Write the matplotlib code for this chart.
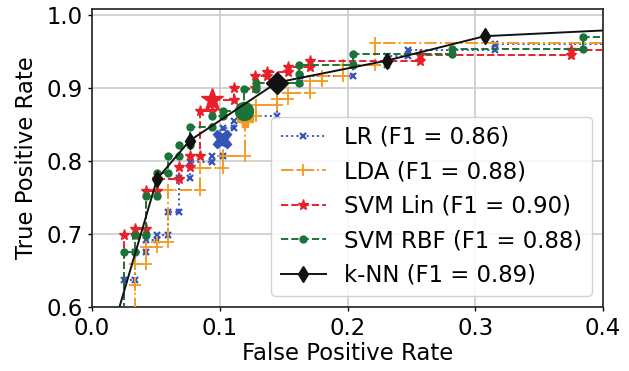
import matplotlib
matplotlib.use("Agg")
import matplotlib.pyplot as plt

# ---- data ----
lr_fpr = [0.0248, 0.0248, 0.0334, 0.0334, 0.0423, 0.0423, 0.0509, 0.0509, 0.0595, 0.0595,
          0.0684, 0.0684, 0.0764, 0.0764, 0.0939, 0.0939, 0.1025, 0.1025, 0.1108, 0.1108,
          0.1194, 0.1194, 0.1447, 0.1447, 0.1625, 0.1625, 0.2045, 0.2045, 0.2306, 0.2306,
          0.2475, 0.2475, 0.3152, 0.3152, 1.0, 1.0]
lr_tpr = [0.50, 0.637, 0.637, 0.675, 0.675, 0.692, 0.692, 0.699, 0.699, 0.730,
          0.730, 0.7765, 0.7765, 0.799, 0.799, 0.807, 0.807, 0.845, 0.845, 0.854,
          0.854, 0.861, 0.861, 0.907, 0.907, 0.916, 0.916, 0.932, 0.932, 0.9435,
          0.9435, 0.9525, 0.9525, 0.9607, 0.9607, 1.0]

lda_fpr = [0.0334, 0.0334, 0.0334, 0.0423, 0.0423, 0.0509, 0.0509, 0.0595, 0.0595, 0.0848,
           0.0848, 0.1025, 0.1025, 0.1194, 0.1194, 0.1281, 0.1281, 0.1447, 0.1447, 0.1538,
           0.1538, 0.1707, 0.1707, 0.1798, 0.1798, 0.1967, 0.1967, 0.2215, 0.2215, 1.0, 1.0]
lda_tpr = [0.50, 0.630, 0.659, 0.659, 0.6827, 0.6827, 0.6896, 0.6896, 0.7605, 0.7605,
           0.7907, 0.7907, 0.8071, 0.8071, 0.861, 0.861, 0.8771, 0.8771, 0.8849, 0.8849,
           0.8931, 0.8931, 0.9091, 0.9091, 0.916, 0.916, 0.932, 0.932, 0.9617, 0.9617, 1.0]

svml_fpr = [0.0248, 0.0248, 0.0334, 0.0334, 0.0423, 0.0423, 0.0509, 0.0509, 0.0678, 0.0678,
            0.0764, 0.0764, 0.0848, 0.0848, 0.0939, 0.0939, 0.1108, 0.1108, 0.1277, 0.1277,
            0.1369, 0.1369, 0.1538, 0.1538, 0.1707, 0.1707, 0.2566, 0.2566, 0.3752, 0.3752,
            1.0, 1.0]
svml_tpr = [0.50, 0.699, 0.699, 0.7066, 0.7066, 0.7595, 0.7595, 0.775, 0.775, 0.791,
            0.791, 0.807, 0.807, 0.869, 0.869, 0.884, 0.884, 0.900, 0.900, 0.916,
            0.916, 0.922, 0.922, 0.929, 0.929, 0.9365, 0.9365, 0.9457, 0.9457, 0.9525,
            0.9525, 1.0]

svmr_fpr = [0.0248, 0.0248, 0.0334, 0.0334, 0.0423, 0.0423, 0.0509, 0.0509, 0.0595, 0.0595,
            0.0684, 0.0684, 0.077, 0.077, 0.094, 0.094, 0.1025, 0.1025, 0.119, 0.119,
            0.128, 0.128, 0.162, 0.162, 0.162, 0.2045, 0.2045, 0.282, 0.282, 0.384,
            0.384, 1.0, 1.0]
svmr_tpr = [0.50, 0.675, 0.675, 0.699, 0.699, 0.752, 0.752, 0.783, 0.783, 0.807,
            0.807, 0.822, 0.822, 0.846, 0.846, 0.861, 0.861, 0.869, 0.869, 0.899,
            0.899, 0.907, 0.907, 0.919, 0.931, 0.931, 0.946, 0.946, 0.9535, 0.9535,
            0.969, 0.969, 1.0]

knn_fpr = [0.0, 0.0509, 0.0764, 0.1447, 0.2309, 0.3074, 0.5]
knn_tpr = [0.472, 0.7752, 0.8277, 0.9073, 0.9374, 0.9708, 0.987]

# operating points (large markers)
op_fpr = {"LR": 0.102, "LDA": 0.1194, "SVM Lin": 0.0939, "SVM RBF": 0.119, "k-NN": 0.1447}
op_tpr = {"LR": 0.830, "LDA": 0.858, "SVM Lin": 0.884, "SVM RBF": 0.869, "k-NN": 0.9073}

labels = ["LR (F1 = 0.86)", "LDA (F1 = 0.88)", "SVM Lin (F1 = 0.90)",
          "SVM RBF (F1 = 0.88)", "k-NN (F1 = 0.89)"]

# ---- style ----
plt.rcParams["font.family"] = ["DejaVu Sans"]
plt.rcParams["font.size"] = 16.4

c_lr = "#3553b8"
c_lda = "#f59b22"
c_svl = "#e8202a"
c_svr = "#1b7437"
c_knn = "#111111"

fig = plt.figure(figsize=(6.29, 3.71), dpi=100)
ax = fig.add_axes([92 / 629, 1 - 307 / 371, (603 - 92) / 629, (307 - 9) / 371])

ax.grid(True, color="#c8c8c8", linewidth=1.1, zorder=0)
ax.set_axisbelow(True)

lw = 1.4
ax.plot(lr_fpr, lr_tpr, linestyle=":", color=c_lr, lw=lw, marker="x", ms=5, mew=1.6,
        label=labels[0], zorder=3)
ax.plot(lda_fpr, lda_tpr, linestyle="-.", color=c_lda, lw=lw, marker="+", ms=9, mew=1.3,
        label=labels[1], zorder=3)
ax.plot(svml_fpr, svml_tpr, linestyle="--", color=c_svl, lw=lw, marker="*", ms=8,
        label=labels[2], zorder=4)
ax.plot(svmr_fpr, svmr_tpr, linestyle="--", color=c_svr, lw=lw, marker="o", ms=5,
        label=labels[3], zorder=4)
ax.plot(knn_fpr, knn_tpr, linestyle="-", color=c_knn, lw=lw, marker="d", ms=8,
        label=labels[4], zorder=6)

# large operating-point markers
ax.plot([op_fpr["LR"]], [op_tpr["LR"]], marker="X", ms=13, color=c_lr, ls="none", zorder=5)
ax.plot([op_fpr["LDA"]], [op_tpr["LDA"]], marker="P", ms=11, color=c_lda, ls="none", zorder=5)
ax.plot([op_fpr["SVM Lin"]], [op_tpr["SVM Lin"]], marker="*", ms=17, color=c_svl, ls="none", zorder=5)
ax.plot([op_fpr["SVM RBF"]], [op_tpr["SVM RBF"]], marker="o", ms=13, color=c_svr, ls="none", zorder=5)
ax.plot([op_fpr["k-NN"]], [op_tpr["k-NN"]], marker="D", ms=11, color=c_knn, ls="none", zorder=7)

ax.set_xlim(0.0, 0.4)
ax.set_ylim(0.6, 1.008)
ax.set_xticks([0.0, 0.1, 0.2, 0.3, 0.4])
ax.set_yticks([0.6, 0.7, 0.8, 0.9, 1.0])
ax.tick_params(length=3, width=1, pad=4)
for s in ax.spines.values():
    s.set_color("#222222")
    s.set_linewidth(1.2)

ax.set_xlabel("False Positive Rate", labelpad=2)
ax.set_ylabel("True Positive Rate", labelpad=6)

leg = ax.legend(loc="lower right", framealpha=0.85, edgecolor="#cccccc", fancybox=True,
                handlelength=2.0, borderaxespad=0.5, labelspacing=0.5)
leg.set_zorder(10)

fig.savefig("out.png", dpi=100)
